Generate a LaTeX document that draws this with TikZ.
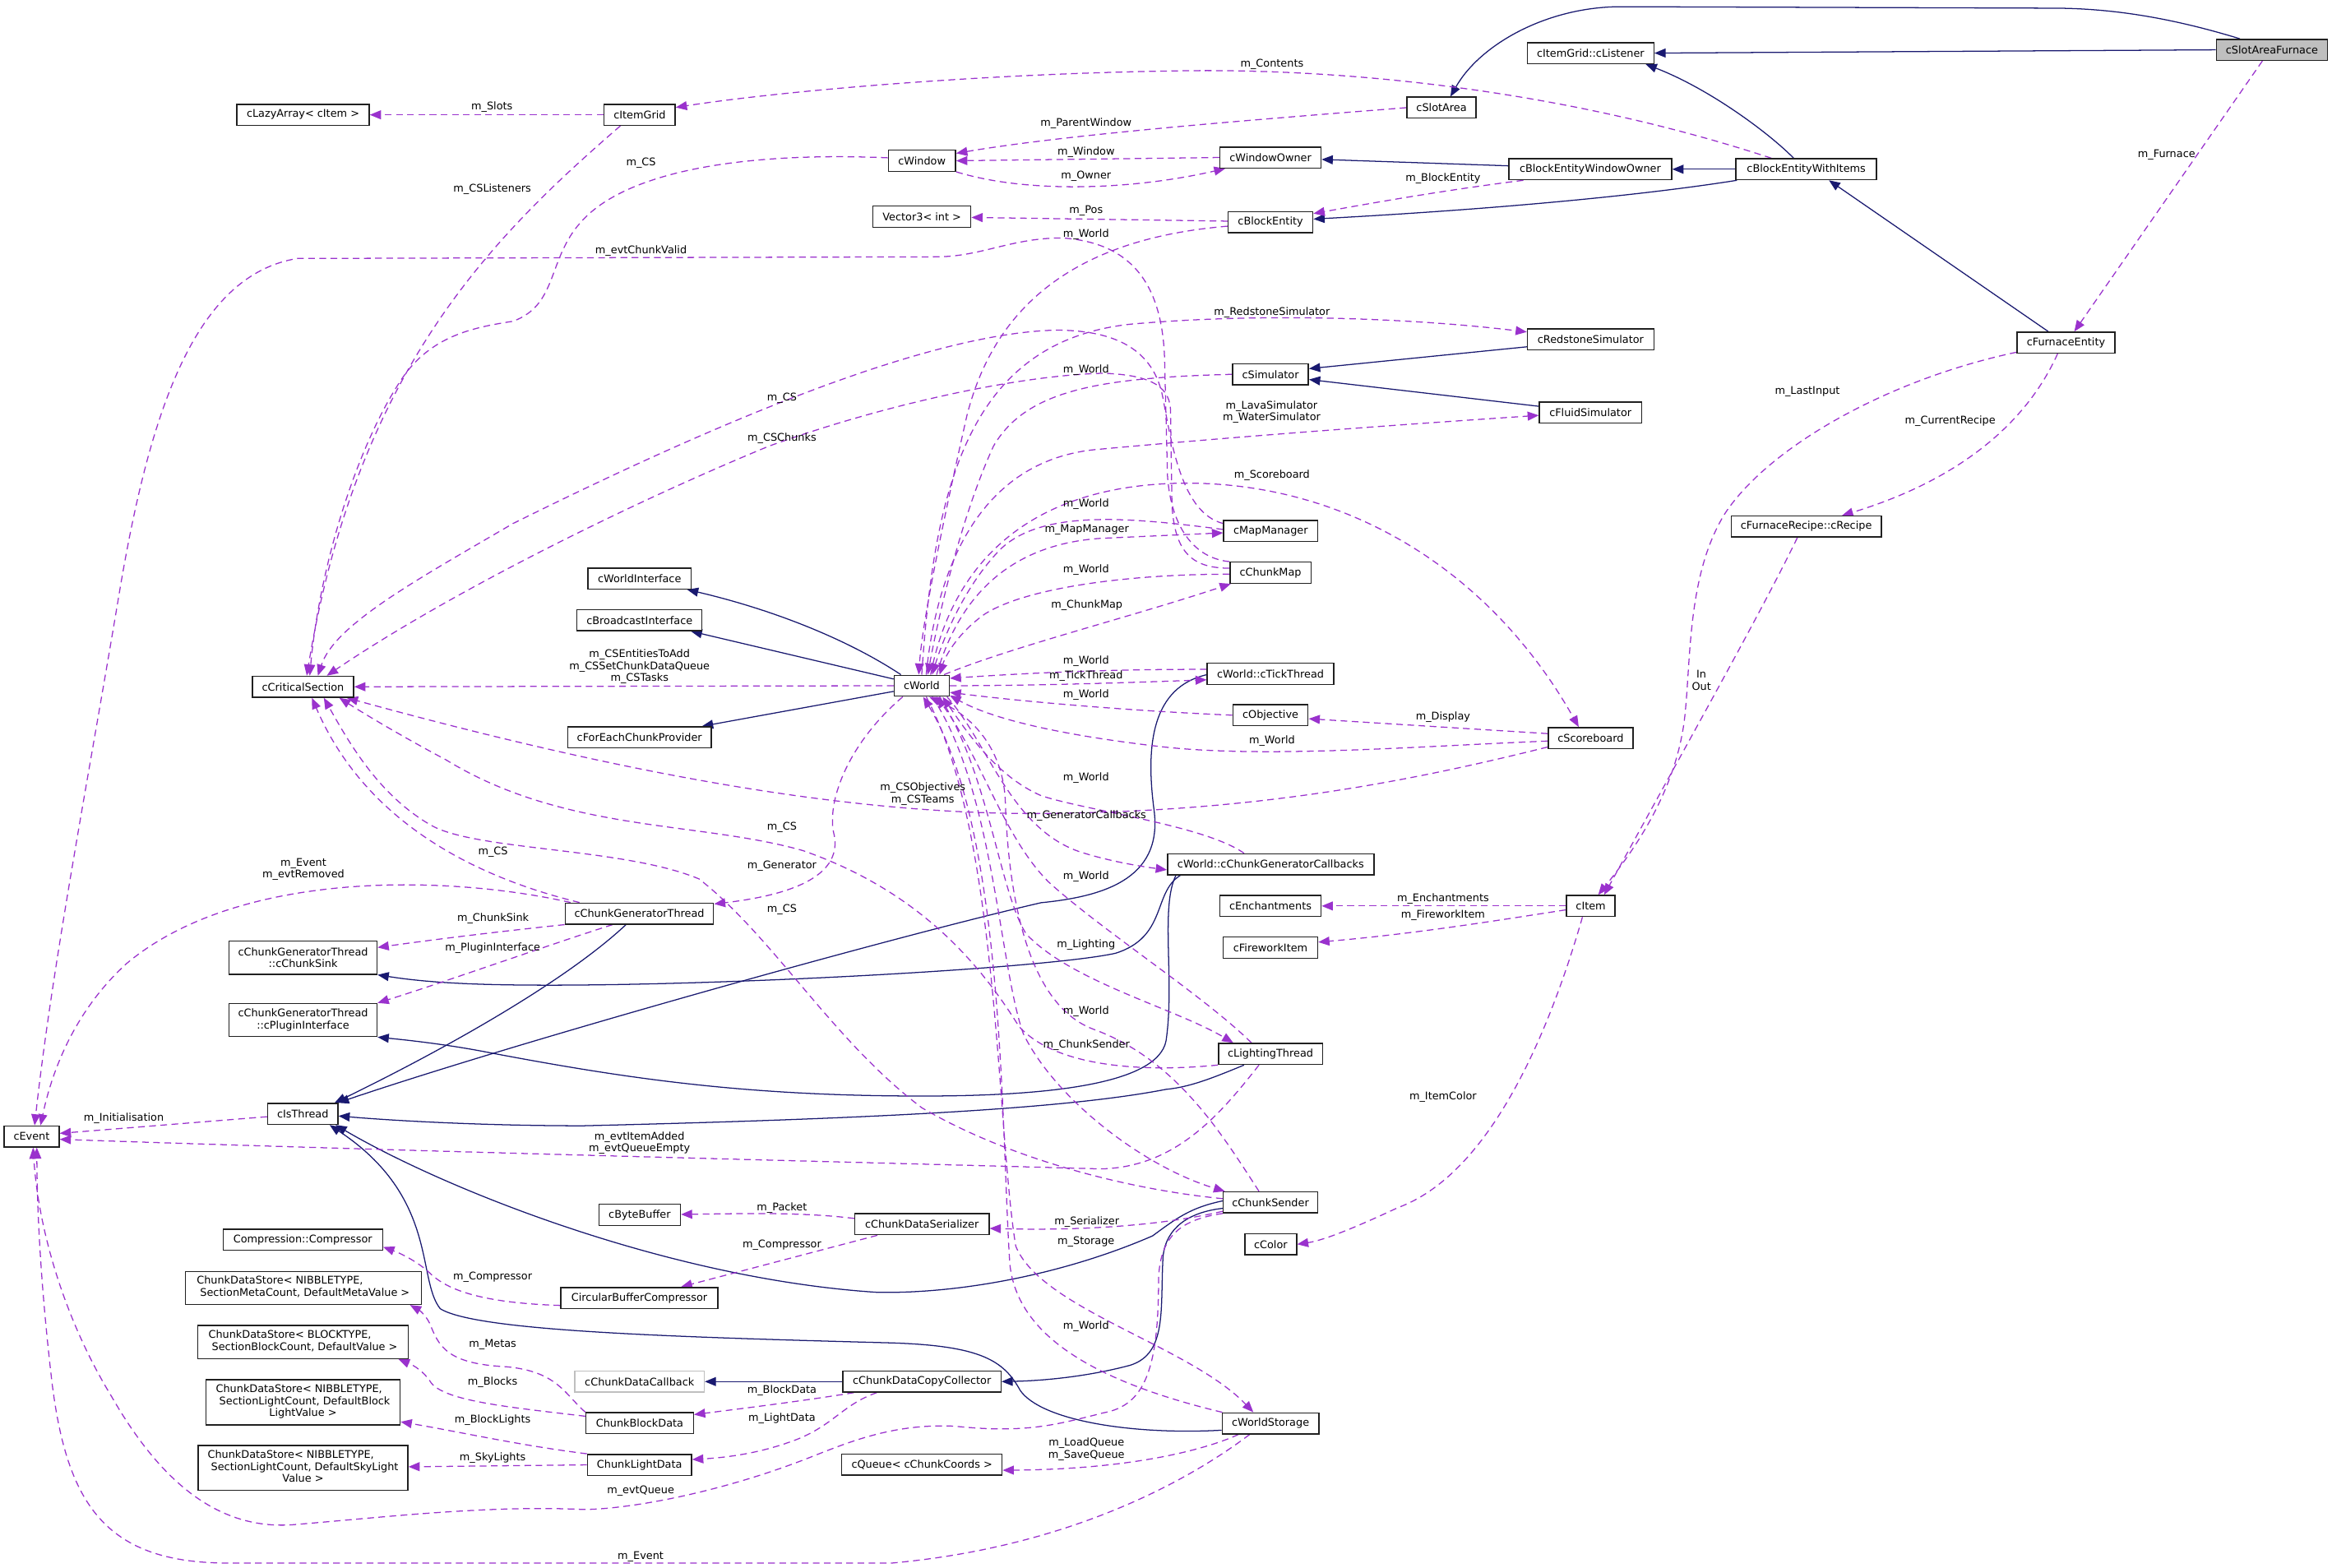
\documentclass[tikz,border=0pt]{standalone}
\usepackage{fontspec}
\setmainfont{DejaVu Sans}
\usetikzlibrary{arrows.meta}
\pgfdeclarelayer{bg}
\pgfsetlayers{bg,main}
\definecolor{ublue}{HTML}{191970}
\definecolor{uorch}{HTML}{9A32CD}
\definecolor{ubord}{HTML}{202020}
\definecolor{ugray}{HTML}{BFBFBF}
\newcommand\dgfont{\fontsize{7.1}{8.1}\selectfont}
\begin{document}
\begin{tikzpicture}[x=1pt,y=-1pt,
  cls/.style={draw=ubord, line width=0.8pt, fill=white, rectangle, inner sep=0pt, minimum height=14.1pt, font=\dgfont, text=black},
  lbl/.style={inner sep=0pt, font=\dgfont, align=center, text=black},
  inhedge/.style={draw=ublue, line width=0.7pt, -{Triangle[length=7.5pt,width=6pt]}},
  useedge/.style={draw=uorch, line width=0.7pt, dash pattern=on 4.5pt off 3pt, -{Triangle[length=7.5pt,width=6pt]}}]
\useasboundingbox (0,0) rectangle (1568,1054);
\begin{pgfonlayer}{bg}
\fill[white] (0,0) rectangle (1568,1054);
\end{pgfonlayer}

% ---------------- nodes ----------------
\node[cls, fill=ugray, minimum width=74.75pt] (csaf) at (1527.6,33.5) {cSlotAreaFurnace};
\node[cls, minimum width=85pt] (clist) at (1069.5,35.7) {cItemGrid::cListener};
\node[cls, minimum width=46.5pt] (cslot) at (969.25,72.4) {cSlotArea};
\node[cls, minimum width=94.5pt] (cbewi) at (1214.5,113.8) {cBlockEntityWithItems};
\node[cls, minimum width=109.5pt] (cbewo) at (1069.25,113.8) {cBlockEntityWindowOwner};
\node[cls, minimum width=68pt] (cwo) at (854.25,105.9) {cWindowOwner};
\node[cls, minimum width=57pt] (cbe) at (854.25,149.3) {cBlockEntity};
\node[cls, minimum width=45.25pt] (cwin) at (619.9,108.1) {cWindow};
\node[cls, minimum width=65.75pt] (vec) at (619.9,145.7) {Vector3< int >};
\node[cls, minimum width=47.75pt] (cig) at (430.1,77.2) {cItemGrid};
\node[cls, minimum width=89pt] (clazy) at (203.75,77.2) {cLazyArray< cItem >};
\node[cls, minimum width=65.75pt] (cfe) at (1389.1,230.4) {cFurnaceEntity};
\node[cls, minimum width=101pt] (crec) at (1214.5,354.1) {cFurnaceRecipe::cRecipe};
\node[cls, minimum width=85pt] (crs) at (1069.5,228.2) {cRedstoneSimulator};
\node[cls, minimum width=51pt] (csim) at (854.25,251.7) {cSimulator};
\node[cls, minimum width=68.75pt] (cfs) at (1069.4,277.5) {cFluidSimulator};
\node[cls, minimum width=63.25pt] (cmm) at (854.4,357) {cMapManager};
\node[cls, minimum width=54.5pt] (ccm) at (854.25,385.1) {cChunkMap};
\node[cls, minimum width=85pt] (ctt) at (854.25,453.1) {cWorld::cTickThread};
\node[cls, minimum width=50.5pt] (cobj) at (854.25,480.9) {cObjective};
\node[cls, minimum width=57pt] (csb) at (1069.5,496.3) {cScoreboard};
\node[cls, minimum width=138.75pt] (ccgc) at (854.4,581.2) {cWorld::cChunkGeneratorCallbacks};
\node[cls, minimum width=68pt] (cench) at (854.25,609.2) {cEnchantments};
\node[cls, minimum width=63.5pt] (cfw) at (854.25,637.2) {cFireworkItem};
\node[cls, minimum width=32.75pt] (citem) at (1069.6,609.2) {cItem};
\node[cls, minimum width=70pt] (clt) at (854.25,708.7) {cLightingThread};
\node[cls, minimum width=63.5pt] (cchs) at (854.25,808.5) {cChunkSender};
\node[cls, minimum width=34.75pt] (ccol) at (854.4,836.7) {cColor};
\node[cls, minimum width=65pt] (cws) at (854.25,957.1) {cWorldStorage};
\node[cls, minimum width=37pt] (cw) at (619.75,461.1) {cWorld};
\node[cls, minimum width=69.5pt] (cwi) at (430,389) {cWorldInterface};
\node[cls, minimum width=84pt] (cbi) at (430,417) {cBroadcastInterface};
\node[cls, minimum width=96.5pt] (cfecp) at (430,495.8) {cForEachChunkProvider};
\node[cls, minimum width=68pt] (ccrit) at (203.75,461.8) {cCriticalSection};
\node[cls, minimum width=99.75pt] (ccgt) at (429.9,614.3) {cChunkGeneratorThread};
\node[cls, minimum width=99.5pt, minimum height=22.4pt, align=center] (csink) at (203.75,643.9) {cChunkGeneratorThread\\::cChunkSink};
\node[cls, minimum width=99.5pt, minimum height=22.2pt, align=center] (cplug) at (203.75,685.9) {cChunkGeneratorThread\\::cPluginInterface};
\node[cls, minimum width=47.25pt] (cist) at (203.6,749) {cIsThread};
\node[cls, minimum width=37pt] (cev) at (21.25,764.2) {cEvent};
\node[cls, minimum width=107.25pt] (ccomp) at (203.6,833.5) {Compression::Compressor};
\node[cls, minimum width=158.75pt, minimum height=22.2pt] (cdsm) at (203.9,866) {\begin{tabular}{@{}l@{}}ChunkDataStore< NIBBLETYPE,\\\multicolumn{1}{@{}c@{}}{\ SectionMetaCount, DefaultMetaValue >}\end{tabular}};
\node[cls, minimum width=141.5pt, minimum height=22.2pt] (cdsb) at (203.75,902.4) {\begin{tabular}{@{}l@{}}ChunkDataStore< BLOCKTYPE,\\\multicolumn{1}{@{}c@{}}{\ SectionBlockCount, DefaultValue >}\end{tabular}};
\node[cls, minimum width=130.5pt, minimum height=30.5pt] (cdsbl) at (203.75,942.9) {\begin{tabular}{@{}l@{}}ChunkDataStore< NIBBLETYPE,\\\ SectionLightCount, DefaultBlock\\\multicolumn{1}{@{}c@{}}{LightValue >}\end{tabular}};
\node[cls, minimum width=141pt, minimum height=30.3pt] (cdssl) at (203.75,987.1) {\begin{tabular}{@{}l@{}}ChunkDataStore< NIBBLETYPE,\\\ SectionLightCount, DefaultSkyLight\\\multicolumn{1}{@{}c@{}}{Value >}\end{tabular}};
\node[cls, minimum width=54.75pt] (cbb) at (430.1,816.9) {cByteBuffer};
\node[cls, minimum width=90.25pt] (cser) at (619.9,823.2) {cChunkDataSerializer};
\node[cls, minimum width=105.75pt] (ccbc) at (429.9,872.8) {CircularBufferCompressor};
\node[cls, draw=ugray, minimum width=87pt] (ccb) at (430,929) {cChunkDataCallback};
\node[cls, minimum width=106.25pt] (cdcc) at (619.9,929) {cChunkDataCopyCollector};
\node[cls, minimum width=72.25pt] (cbd) at (430.1,957) {ChunkBlockData};
\node[cls, minimum width=70pt] (cld) at (430,985) {ChunkLightData};
\node[cls, minimum width=107.75pt] (cq) at (619.9,984.9) {cQueue< cChunkCoords >};

% ---------------- labels ----------------
\node[lbl] (l01) at (330.75,72.2) {m\_Slots};
\node[lbl] (l02) at (331,127) {m\_CSListeners};
\node[lbl] (l03) at (431,109.7) {m\_CS};
\node[lbl] (l04) at (431,168.7) {m\_evtChunkValid};
\node[lbl] (l05) at (855.25,43.3) {m\_Contents};
\node[lbl] (l06) at (730.25,82.8) {m\_ParentWindow};
\node[lbl] (l07) at (730.25,102.5) {m\_Window};
\node[lbl] (l08) at (730.25,118.7) {m\_Owner};
\node[lbl] (l09) at (730.25,141.8) {m\_Pos};
\node[lbl] (l10) at (730.25,157.7) {m\_World};
\node[lbl] (l11) at (970.25,120.2) {m\_BlockEntity};
\node[lbl] (l12) at (1456.75,104.3) {m\_Furnace};
\node[lbl] (l13) at (1215.25,263.6) {m\_LastInput};
\node[lbl] (l14) at (1311.25,283.3) {m\_CurrentRecipe};
\node[lbl] (l15) at (1144,457.5) {In\\Out};
\node[lbl] (l16) at (855.25,210.4) {m\_RedstoneSimulator};
\node[lbl] (l17) at (855,277) {m\_LavaSimulator\\m\_WaterSimulator};
\node[lbl] (l18) at (855.25,319.6) {m\_Scoreboard};
\node[lbl] (l19) at (525.75,268) {m\_CS};
\node[lbl] (l20) at (525.75,295) {m\_CSChunks};
\node[lbl] (l21) at (730.25,249) {m\_World};
\node[lbl] (l22) at (730.25,339.1) {m\_World};
\node[lbl] (l23) at (730.75,356.1) {m\_MapManager};
\node[lbl] (l24) at (730.25,383.2) {m\_World};
\node[lbl] (l25) at (730.75,407) {m\_ChunkMap};
\node[lbl] (l26) at (730.25,444.5) {m\_World};
\node[lbl] (l27) at (730.25,454.6) {m\_TickThread};
\node[lbl] (l28) at (730.25,467.3) {m\_World};
\node[lbl] (l29) at (970.25,482.4) {m\_Display};
\node[lbl] (l30) at (855.25,498.3) {m\_World};
\node[lbl] (l31) at (430,448.2) {m\_CSEntitiesToAdd\\m\_CSSetChunkDataQueue\\m\_CSTasks};
\node[lbl] (l32) at (730.25,523.2) {m\_World};
\node[lbl] (l33) at (620.5,534) {m\_CSObjectives\\m\_CSTeams};
\node[lbl] (l34) at (730.5,548.5) {m\_GeneratorCallbacks};
\node[lbl] (l35) at (525.75,556.4) {m\_CS};
\node[lbl] (l36) at (525.75,582.4) {m\_Generator};
\node[lbl] (l37) at (730.25,589.4) {m\_World};
\node[lbl] (l38) at (525.75,611.8) {m\_CS};
\node[lbl] (l39) at (730.25,635.6) {m\_Lighting};
\node[lbl] (l40) at (730.25,680.2) {m\_World};
\node[lbl] (l41) at (730.5,703) {m\_ChunkSender};
\node[lbl] (l42) at (331.5,573) {m\_CS};
\node[lbl] (l43) at (204,584.5) {m\_Event\\m\_evtRemoved};
\node[lbl] (l44) at (331.5,617.9) {m\_ChunkSink};
\node[lbl] (l45) at (331.25,637.8) {m\_PluginInterface};
\node[lbl] (l46) at (970.25,604.6) {m\_Enchantments};
\node[lbl] (l47) at (970.25,615.6) {m\_FireworkItem};
\node[lbl] (l48) at (970.25,737.4) {m\_ItemColor};
\node[lbl] (l49) at (83.25,752.2) {m\_Initialisation};
\node[lbl] (l50) at (430,768.5) {m\_evtItemAdded\\m\_evtQueueEmpty};
\node[lbl] (l51) at (525.75,812.1) {m\_Packet};
\node[lbl] (l52) at (730.75,821.5) {m\_Serializer};
\node[lbl] (l53) at (525.75,837.2) {m\_Compressor};
\node[lbl] (l54) at (730.25,835) {m\_Storage};
\node[lbl] (l55) at (331.25,858.7) {m\_Compressor};
\node[lbl] (l56) at (730.25,891.7) {m\_World};
\node[lbl] (l57) at (331.25,904.3) {m\_Metas};
\node[lbl] (l58) at (331.25,929.6) {m\_Blocks};
\node[lbl] (l59) at (525.75,935) {m\_BlockData};
\node[lbl] (l60) at (525.75,953.8) {m\_LightData};
\node[lbl] (l61) at (331.25,955) {m\_BlockLights};
\node[lbl] (l62) at (730.5,974.7) {m\_LoadQueue\\m\_SaveQueue};
\node[lbl] (l63) at (331.25,980.5) {m\_SkyLights};
\node[lbl] (l64) at (430.75,1002.7) {m\_evtQueue};
\node[lbl] (l65) at (430.75,1046.9) {m\_Event};

% ---------------- edges ----------------
\begin{pgfonlayer}{bg}
% inheritance
\draw[inhedge] ([xshift=-21.6pt]csaf.north) .. controls (1460,12) and (1420,5.5) .. (1380,5.5) -- (1090,4.5) .. controls (1040,4.5) and (995,30) .. ([xshift=6pt]cslot.north);
\draw[inhedge] (csaf.west) -- (clist.east);
\draw[inhedge] ([xshift=-8.5pt]cbewi.north) .. controls (1190,90) and (1150,60) .. ([xshift=37pt]clist.south);
\draw[inhedge] (cbewi.west) -- (cbewo.east);
\draw[inhedge] ([xshift=1pt]cbewi.south west) .. controls (1100,132) and (1000,141) .. ([yshift=2pt]cbe.east);
\draw[inhedge] ([xshift=-11.85pt]cfe.north) -- ([xshift=15.25pt]cbewi.south);
\draw[inhedge] ([yshift=2.3pt]cbewo.west) -- ([yshift=-1.3pt]cwo.east);
\draw[inhedge] ([yshift=-5pt]crs.west) -- ([yshift=3.8pt]csim.east);
\draw[inhedge] ([yshift=4.3pt]cfs.west) -- ([yshift=-3.5pt]csim.east);
\draw[inhedge] ([xshift=-14pt]cw.north) .. controls (570,430) and (520,410) .. ([xshift=32pt]cwi.south);
\draw[inhedge] ([yshift=4.5pt]cw.west) -- ([xshift=34.5pt]cbi.south);
\draw[inhedge] ([yshift=-3.8pt]cw.west) -- ([xshift=42pt]cfecp.north);
\draw[inhedge] ([xshift=-9pt]ccgt.south) .. controls (380,660) and (300,705) .. ([xshift=21.4pt]cist.north);
\draw[inhedge] ([yshift=-0.6pt]ctt.west) .. controls (775,462) and (770,500) .. (776,545) .. controls (782,592) and (740,603) .. (700,607) .. controls (600,630) and (350,700) .. ([xshift=-0.5pt]cist.north east);
\draw[inhedge] ([xshift=9pt]ccgc.south west) .. controls (775,600) and (785,630) .. (750,641) .. controls (700,652) and (450,665) .. (330,662) .. controls (290,661) and (270,658) .. (csink.south east);
\draw[inhedge] ([xshift=6pt]ccgc.south west) .. controls (780,610) and (790,660) .. (784,700) .. controls (778,730) and (700,737) .. (620,737) .. controls (500,737) and (420,725) .. (330,708) .. controls (300,702) and (270,699) .. (cplug.south east);
\draw[inhedge] ([xshift=-17.75pt]clt.south) .. controls (815,725) and (800,731) .. (784,732.5) .. controls (720,745) and (600,752) .. (392,757) .. controls (330,757) and (270,754) .. ([yshift=-1.4pt]cist.east);
\draw[inhedge] ([yshift=1pt]cchs.west) .. controls (800,812) and (790,820) .. (775,831) .. controls (720,855) and (650,870) .. (590,869) .. controls (450,860) and (300,800) .. ([xshift=-2pt]cist.south east);
\draw[inhedge] ([yshift=-4pt]cchs.west) .. controls (800,815) and (784,825) .. (782,845) .. controls (780,880) and (785,910) .. (760,918) .. controls (730,926) and (700,928.5) .. (cdcc.east);
\draw[inhedge] ([yshift=-4.6pt]cws.west) .. controls (760,965) and (700,955) .. (686,935) .. controls (675,915) and (660,905) .. (600,903) .. controls (450,899) and (320,895) .. (296,880) .. controls (280,860) and (295,805) .. ([xshift=-6pt]cist.south east);
\draw[inhedge] (cdcc.west) -- (ccb.east);

% usage
\draw[useedge] ([xshift=-6.4pt]csaf.south) -- ([xshift=5.6pt]cfe.north);
\draw[useedge] ([xshift=-23.5pt]cbewi.north) .. controls (1050,60) and (900,45) .. (784,47.8) .. controls (650,50) and (520,62) .. ([yshift=-2.5pt]cig.north east);
\draw[useedge] ([yshift=1pt]cfe.south west) .. controls (1270,255) and (1190,300) .. (1160,345) .. controls (1135,385) and (1137,440) .. (1133,480) .. controls (1128,530) and (1100,570) .. ([xshift=5pt]citem.north);
\draw[useedge] ([xshift=-5.6pt]cfe.south) .. controls (1360,290) and (1310,325) .. ([xshift=24pt]crec.north);
\draw[useedge] ([xshift=-6pt]crec.south) .. controls (1185,410) and (1140,490) .. ([xshift=9pt]citem.north);
\draw[useedge] (cslot.west) .. controls (850,80) and (720,90) .. ([yshift=5pt]cwin.east);
\draw[useedge] (cwo.west) -- (cwin.east);
\draw[useedge] (cwin.south east) .. controls (690,130) and (760,128) .. ([xshift=4pt]cwo.south west);
\draw[useedge] ([xshift=-45pt]cbewo.south) .. controls (970,128) and (920,137) .. ([yshift=5.7pt]cbe.east);
\draw[useedge] ([yshift=0.6pt]cbe.west) -- ([yshift=-0.5pt]vec.east);
\draw[useedge] ([yshift=-2.8pt]cbe.west) .. controls (730,160) and (670,200) .. (650,280) .. controls (632,360) and (620,420) .. ([xshift=-2pt]cw.north);
\draw[useedge] (ccm.north west) .. controls (800,375) and (787,350) .. (785,320) -- (783,240) .. controls (781,190) and (760,163) .. (714,160) .. controls (680,160) and (660,172.5) .. (630,172.7) -- (200,173.8) .. controls (130,185) and (100,280) .. (80,400) .. controls (60,520) and (35,650) .. ([xshift=2pt]cev.north);
\draw[useedge] ([yshift=5pt]cmm.west) .. controls (795,345) and (788,300) .. (782,268) .. controls (776,235) and (750,222) .. (710,222) .. controls (620,224) and (470,290) .. (345,352) .. controls (280,390) and (225,420) .. ([xshift=10pt]ccrit.north);
\draw[useedge] ([yshift=3pt]ccm.west) .. controls (800,382) and (790,370) .. (788,340) -- (787,275) .. controls (786,258) and (770,252) .. (742,251) .. controls (690,252) and (600,270) .. (517,300) .. controls (420,340) and (300,400) .. ([xshift=16pt]ccrit.north);
\draw[useedge] (csim.west) .. controls (740,254) and (690,262) .. (668,300) .. controls (645,350) and (630,420) .. ([xshift=4pt]cw.north);
\draw[useedge] ([yshift=1pt]cmm.west) .. controls (760,348) and (700,342) .. (672,370) .. controls (648,395) and (634,430) .. ([xshift=7pt]cw.north);
\draw[useedge] ([xshift=10pt]cw.north) .. controls (645,400) and (680,366) .. (740,362) -- ([yshift=-1.3pt]cmm.west);
\draw[useedge] ([yshift=-1pt]ccm.west) .. controls (760,386) and (690,395) .. (662,413) .. controls (645,425) and (636,440) .. ([xshift=12pt]cw.north);
\draw[useedge] ([xshift=15pt]cw.north) .. controls (680,435) and (760,415) .. ([xshift=1pt]ccm.south west);
\draw[useedge] ([yshift=3pt]ctt.west) .. controls (750,450) and (700,452) .. ([yshift=5pt]cw.east);
\draw[useedge] (cw.east) .. controls (700,461) and (760,459) .. ([yshift=-4pt]ctt.west);
\draw[useedge] (cobj.west) .. controls (760,478) and (690,472) .. ([yshift=-4.5pt]cw.east);
\draw[useedge] ([yshift=3pt]csb.west) -- ([yshift=-2.4pt]cobj.east);
\draw[useedge] ([yshift=-2pt]csb.west) .. controls (950,502) and (850,510) .. (780,502) .. controls (720,495) and (670,485) .. ([yshift=-6.5pt]cw.east);
\draw[useedge] ([yshift=-6pt]csb.west) .. controls (930,530) and (830,546) .. (700,547) .. controls (560,548) and (400,515) .. ([xshift=-5pt]ccrit.south east);
\draw[useedge] ([xshift=6pt]cw.north) .. controls (640,380) and (690,328) .. (790,325) .. controls (900,322) and (1000,380) .. ([xshift=-8pt]csb.north);
\draw[useedge] (cw.north) .. controls (628,330) and (650,230) .. (760,218) .. controls (850,210) and (950,214) .. ([yshift=5pt]crs.west);
\draw[useedge] ([xshift=3pt]cw.north) .. controls (630,380) and (660,308) .. (740,302) .. controls (850,292) and (950,285) .. ([yshift=-1.8pt]cfs.west);
\draw[useedge] ([xshift=17pt]cw.south) .. controls (665,500) and (680,560) .. (730,574) .. controls (750,580) and (770,583) .. ([yshift=-3.7pt]ccgc.west);
\draw[useedge] ([xshift=-17.9pt]ccgc.north) .. controls (810,555) and (730,545) .. (700,535) .. controls (670,522) and (650,492) .. ([xshift=14pt]cw.south);
\draw[useedge] ([xshift=12pt]cw.south) .. controls (665,520) and (672,600) .. (690,628) .. controls (720,660) and (790,678) .. ([xshift=-25pt]clt.north);
\draw[useedge] ([xshift=-12.75pt]clt.north) .. controls (810,670) and (740,625) .. (705,593) .. controls (675,563) and (660,510) .. ([xshift=10pt]cw.south);
\draw[useedge] ([xshift=7pt]cw.south) .. controls (668,530) and (672,650) .. (688,695) .. controls (710,740) and (770,785) .. ([xshift=1.5pt]cchs.north west);
\draw[useedge] ([xshift=-7.75pt]cchs.north) .. controls (820,760) and (790,712) .. (735,692) .. controls (690,675) and (678,600) .. (676,540) .. controls (675,505) and (655,482) .. ([xshift=5pt]cw.south);
\draw[useedge] ([xshift=3pt]cw.south) .. controls (672,560) and (670,760) .. (683,838) .. controls (700,880) and (800,905) .. ([xshift=-11.5pt]cws.north);
\draw[useedge] ([xshift=0.5pt]cws.north west) .. controls (740,930) and (684,900) .. (679,850) .. controls (673,760) and (676,560) .. ([xshift=1pt]cw.south);
\draw[useedge] ([xshift=-12.75pt]cw.south) .. controls (570,500) and (555,540) .. (561,562) .. controls (566,590) and (530,602) .. ([yshift=-1pt]ccgt.north east);
\draw[useedge] (cw.west) -- (ccrit.east);
\draw[useedge] ([xshift=10pt]ccgt.north west) .. controls (300,585) and (240,540) .. ([xshift=6pt]ccrit.south);
\draw[useedge] ([xshift=4pt]ccgt.north west) .. controls (300,588) and (160,585) .. (85,648) .. controls (50,680) and (35,720) .. ([xshift=6pt]cev.north);
\draw[useedge] (ccgt.south west) .. controls (330,627) and (290,632) .. ([yshift=6.8pt]csink.east);
\draw[useedge] ([xshift=-18pt]ccgt.south) .. controls (370,635) and (300,660) .. (cplug.north east);
\draw[useedge] ([yshift=-6pt]cchs.west) .. controls (790,822) and (740,828) .. ([yshift=-2.8pt]cser.east);
\draw[useedge] ([yshift=2.5pt]cchs.west) .. controls (760,800) and (680,780) .. (620,745) .. controls (560,700) and (520,630) .. (470,591) .. controls (420,570) and (320,572) .. (290,555) .. controls (255,535) and (235,500) .. ([xshift=14pt]ccrit.south);
\draw[useedge] (clt.south west) .. controls (770,721) and (710,718) .. (685,690) .. controls (660,650) and (620,600) .. (540,572) .. controls (470,552) and (380,560) .. (300,511) .. controls (270,495) and (245,480) .. ([xshift=-10pt]ccrit.south east);
\draw[useedge] ([xshift=-7.75pt]clt.south) .. controls (820,750) and (790,785) .. (740,786) .. controls (600,782) and (300,775) .. ([yshift=-1.9pt]cev.east);
\draw[useedge] ([yshift=-1.9pt]cist.west) -- ([yshift=2.1pt]cev.east);
\draw[useedge] (cchs.south west) .. controls (795,820) and (780,830) .. (779,860) .. controls (779,920) and (770,945) .. (742,950) .. controls (710,958) and (690,964) .. (642,959) .. controls (600,957) and (570,970) .. (542,981) .. controls (480,1005) and (420,1015) .. (392,1015) .. controls (330,1012) and (260,1020) .. (200,1025) .. controls (150,1030) and (110,1000) .. (75,939) .. controls (45,890) and (26,830) .. ([xshift=1pt]cev.south);
\draw[useedge] ([xshift=-14pt]cws.south) .. controls (800,995) and (720,1040) .. (600,1051) -- (150,1051) .. controls (70,1050) and (45,1010) .. (35,930) .. controls (28,870) and (25,820) .. ([xshift=3.5pt]cev.south);
\draw[useedge] ([xshift=-21.5pt]cws.south) .. controls (810,975) and (760,988) .. ([yshift=-3.7pt]cq.east);
\draw[useedge] ([yshift=3.9pt]cser.west) .. controls (540,815) and (500,816) .. ([yshift=0.3pt]cbb.east);
\draw[useedge] ([xshift=-30pt]cser.south) -- ([xshift=28pt]ccbc.north);
\draw[useedge] ([yshift=-5pt]ccbc.west) .. controls (320,876) and (300,866) .. (290,857) .. controls (282,849) and (270,843) .. ([yshift=-5pt]ccomp.east);
\draw[useedge] ([xshift=7.75pt]cdcc.south west) .. controls (540,942) and (500,947) .. ([yshift=5.8pt]cbd.east);
\draw[useedge] ([xshift=-30.4pt]cdcc.south) .. controls (565,945) and (560,960) .. (530,970) .. controls (510,977) and (490,980) .. ([yshift=3.6pt]cld.east);
\draw[useedge] (cbd.north west) .. controls (380,938) and (375,922) .. (340,919) .. controls (300,917) and (295,905) .. (289,890) .. controls (286,884) and (282,881) .. ([xshift=-8pt]cdsm.south east);
\draw[useedge] ([yshift=4.7pt]cbd.west) .. controls (340,946) and (300,942) .. (290,930) .. controls (285,922) and (278,918) .. ([xshift=-7pt]cdsb.south east);
\draw[useedge] (cld.north west) .. controls (350,972) and (310,963) .. ([yshift=2.5pt]cdsbl.south east);
\draw[useedge] (cld.west) -- ([yshift=0.8pt]cdssl.east);
\draw[useedge] (citem.west) -- (cench.east);
\draw[useedge] ([yshift=-2.6pt]citem.west) .. controls (1000,620) and (950,628) .. ([yshift=3.7pt]cfw.east);
\draw[useedge] ([xshift=-5.6pt]citem.south) .. controls (1040,700) and (1000,790) .. (940,812) .. controls (910,826) and (890,834) .. (ccol.east);
\draw[useedge] (cig.west) -- (clazy.east);
\draw[useedge] ([xshift=-13pt]cig.south) .. controls (330,160) and (240,250) .. ([xshift=2.5pt]ccrit.north);
\draw[useedge] ([yshift=2pt]cwin.west) .. controls (500,102) and (420,115) .. (390,150) .. controls (368,175) and (375,205) .. (345,216) .. controls (320,220) and (290,225) .. (270,255) .. controls (240,300) and (215,380) .. ([xshift=4.5pt]ccrit.north);
\end{pgfonlayer}
\end{tikzpicture}
\end{document}
